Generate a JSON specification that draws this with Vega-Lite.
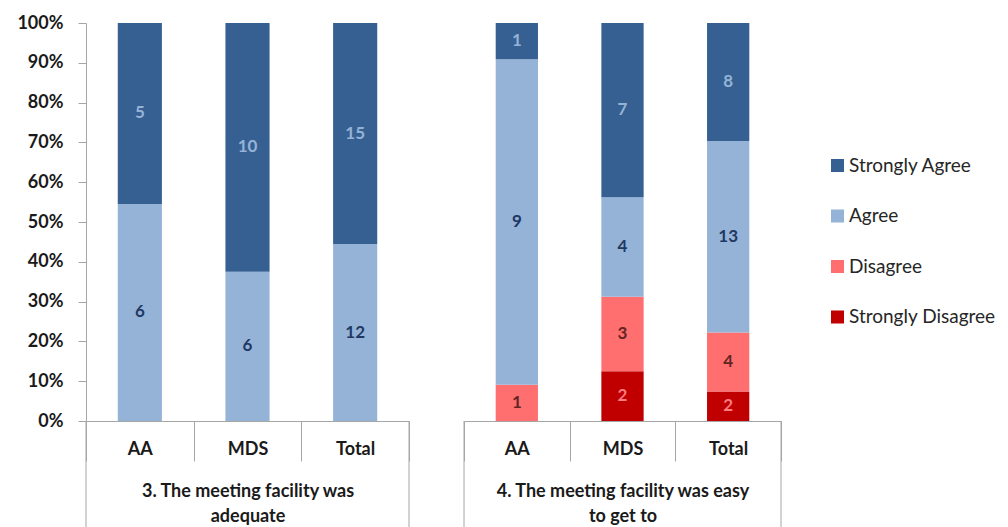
{
  "$schema": "https://vega.github.io/schema/vega-lite/v6.json",
  "background": "white",
  "padding": {"left": 16, "top": 14, "right": 0, "bottom": 0},
  "config": {
    "view": {"stroke": null},
    "font": "Lato",
    "axis": {"grid": false}
  },
  "data": {
    "values": [
      {"question": "q3", "group": "AA", "response": "Agree", "level": 3, "count": 6},
      {"question": "q3", "group": "AA", "response": "Strongly Agree", "level": 4, "count": 5},
      {"question": "q3", "group": "MDS", "response": "Agree", "level": 3, "count": 6},
      {"question": "q3", "group": "MDS", "response": "Strongly Agree", "level": 4, "count": 10},
      {"question": "q3", "group": "Total", "response": "Agree", "level": 3, "count": 12},
      {"question": "q3", "group": "Total", "response": "Strongly Agree", "level": 4, "count": 15},
      {"question": "q4", "group": "AA", "response": "Disagree", "level": 2, "count": 1},
      {"question": "q4", "group": "AA", "response": "Agree", "level": 3, "count": 9},
      {"question": "q4", "group": "AA", "response": "Strongly Agree", "level": 4, "count": 1},
      {"question": "q4", "group": "MDS", "response": "Strongly Disagree", "level": 1, "count": 2},
      {"question": "q4", "group": "MDS", "response": "Disagree", "level": 2, "count": 3},
      {"question": "q4", "group": "MDS", "response": "Agree", "level": 3, "count": 4},
      {"question": "q4", "group": "MDS", "response": "Strongly Agree", "level": 4, "count": 7},
      {"question": "q4", "group": "Total", "response": "Strongly Disagree", "level": 1, "count": 2},
      {"question": "q4", "group": "Total", "response": "Disagree", "level": 2, "count": 4},
      {"question": "q4", "group": "Total", "response": "Agree", "level": 3, "count": 13},
      {"question": "q4", "group": "Total", "response": "Strongly Agree", "level": 4, "count": 8}
    ]
  },
  "spacing": 53,
  "resolve": {"scale": {"color": "shared"}},
  "hconcat": [
    {
      "width": 323,
      "height": 398,
      "transform": [{"filter": "datum.question === 'q3'"}],
      "layer": [
        {
          "mark": {"type": "bar", "width": {"band": 0.41}},
          "encoding": {
            "x": {
              "field": "group", "type": "nominal",
              "scale": {"paddingInner": 0, "paddingOuter": 0},
              "axis": {
                "labelAngle": 0, "labelFont": "Lato", "labelFontSize": 18, "labelFontWeight": "bold", "labelColor": "#1a1a1a",
                "labelBaseline": "middle", "labelPadding": -12,
                "tickBand": "extent", "tickSize": 40, "tickColor": "#A6A6A6", "domainColor": "#A6A6A6",
                "title": ["3. The meeting facility was", "adequate"],
                "titleFont": "Lato", "titleFontSize": 18, "titleFontWeight": "bold", "titleColor": "#1a1a1a",
                "titlePadding": 21, "titleLineHeight": 25
              }
            },
            "y": {
              "field": "count", "type": "quantitative", "stack": "normalize",
              "scale": {"domain": [0, 1]},
              "axis": {
                "format": ".0%", "values": [0, 0.1, 0.2, 0.3, 0.4, 0.5, 0.6, 0.7, 0.8, 0.9, 1], "tickCount": 12,
                "labelOverlap": false,
                "labelFont": "Lato", "labelFontSize": 18, "labelFontWeight": "bold", "labelColor": "#1a1a1a",
                "tickSize": 8, "tickColor": "#A6A6A6", "domainColor": "#A6A6A6", "labelPadding": 15, "title": null
              }
            },
            "color": {
              "field": "response", "type": "nominal",
              "scale": {
                "domain": ["Strongly Agree", "Agree", "Disagree", "Strongly Disagree"],
                "range": ["#376092", "#95B3D7", "#FF6F6F", "#C00000"]
              },
              "legend": {
                "orient": "none", "legendX": 742, "legendY": 133, "title": null,
                "symbolType": "square", "symbolSize": 170, "symbolStrokeWidth": 0,
                "labelFont": "Lato", "labelFontSize": 19, "labelColor": "#262626",
                "rowPadding": 30.5, "labelOffset": 2, "padding": 0
              }
            },
            "order": {"field": "level", "type": "quantitative", "sort": "ascending"}
          }
        },
        {
          "mark": {"type": "text", "font": "Lato", "fontSize": 17, "fontWeight": "bold", "baseline": "middle"},
          "encoding": {
            "x": {"field": "group", "type": "nominal"},
            "y": {"field": "count", "type": "quantitative", "stack": "normalize", "bandPosition": 0.5},
            "detail": {"field": "response"},
            "order": {"field": "level", "type": "quantitative", "sort": "ascending"},
            "text": {"field": "count", "type": "quantitative"},
            "color": {
              "condition": [
                {"test": "datum.response === 'Strongly Agree'", "value": "#95B3D7"},
                {"test": "datum.response === 'Disagree'", "value": "#632523"},
                {"test": "datum.response === 'Strongly Disagree'", "value": "#FF7C80"}
              ],
              "value": "#1F3864"
            }
          }
        },
        {
          "data": {"values": [{}]},
          "mark": {"type": "rule", "color": "#A6A6A6"},
          "encoding": {
            "x": {"datum": "AA", "type": "nominal", "bandPosition": 0},
            "y": {"datum": 0, "type": "quantitative"},
            "y2": {"datum": -0.28}
          }
        },
        {
          "data": {"values": [{}]},
          "mark": {"type": "rule", "color": "#A6A6A6"},
          "encoding": {
            "x": {"datum": "Total", "type": "nominal", "bandPosition": 1},
            "y": {"datum": 0, "type": "quantitative"},
            "y2": {"datum": -0.28}
          }
        }
      ]
    },
    {
      "width": 317,
      "height": 398,
      "transform": [{"filter": "datum.question === 'q4'"}],
      "layer": [
        {
          "mark": {"type": "bar", "width": {"band": 0.4}},
          "encoding": {
            "x": {
              "field": "group", "type": "nominal",
              "scale": {"paddingInner": 0, "paddingOuter": 0},
              "axis": {
                "labelAngle": 0, "labelFont": "Lato", "labelFontSize": 18, "labelFontWeight": "bold", "labelColor": "#1a1a1a",
                "labelBaseline": "middle", "labelPadding": -12,
                "tickBand": "extent", "tickSize": 40, "tickColor": "#A6A6A6", "domainColor": "#A6A6A6",
                "title": ["4. The meeting facility was easy", "to get to"],
                "titleFont": "Lato", "titleFontSize": 18, "titleFontWeight": "bold", "titleColor": "#1a1a1a",
                "titlePadding": 21, "titleLineHeight": 25
              }
            },
            "y": {
              "field": "count", "type": "quantitative", "stack": "normalize",
              "scale": {"domain": [0, 1]},
              "axis": null
            },
            "color": {
              "field": "response", "type": "nominal",
              "scale": {
                "domain": ["Strongly Agree", "Agree", "Disagree", "Strongly Disagree"],
                "range": ["#376092", "#95B3D7", "#FF6F6F", "#C00000"]
              },
              "legend": {
                "orient": "none", "legendX": 742, "legendY": 133, "title": null,
                "symbolType": "square", "symbolSize": 170, "symbolStrokeWidth": 0,
                "labelFont": "Lato", "labelFontSize": 19, "labelColor": "#262626",
                "rowPadding": 30.5, "labelOffset": 2, "padding": 0
              }
            },
            "order": {"field": "level", "type": "quantitative", "sort": "ascending"}
          }
        },
        {
          "mark": {"type": "text", "font": "Lato", "fontSize": 17, "fontWeight": "bold", "baseline": "middle"},
          "encoding": {
            "x": {"field": "group", "type": "nominal"},
            "y": {"field": "count", "type": "quantitative", "stack": "normalize", "bandPosition": 0.5, "axis": null},
            "detail": {"field": "response"},
            "order": {"field": "level", "type": "quantitative", "sort": "ascending"},
            "text": {"field": "count", "type": "quantitative"},
            "color": {
              "condition": [
                {"test": "datum.response === 'Strongly Agree'", "value": "#95B3D7"},
                {"test": "datum.response === 'Disagree'", "value": "#632523"},
                {"test": "datum.response === 'Strongly Disagree'", "value": "#FF7C80"}
              ],
              "value": "#1F3864"
            }
          }
        },
        {
          "data": {"values": [{}]},
          "mark": {"type": "rule", "color": "#A6A6A6"},
          "encoding": {
            "x": {"datum": "AA", "type": "nominal", "bandPosition": 0},
            "y": {"datum": 0, "type": "quantitative", "axis": null},
            "y2": {"datum": -0.28}
          }
        },
        {
          "data": {"values": [{}]},
          "mark": {"type": "rule", "color": "#A6A6A6"},
          "encoding": {
            "x": {"datum": "Total", "type": "nominal", "bandPosition": 1},
            "y": {"datum": 0, "type": "quantitative", "axis": null},
            "y2": {"datum": -0.28}
          }
        }
      ]
    }
  ]
}
